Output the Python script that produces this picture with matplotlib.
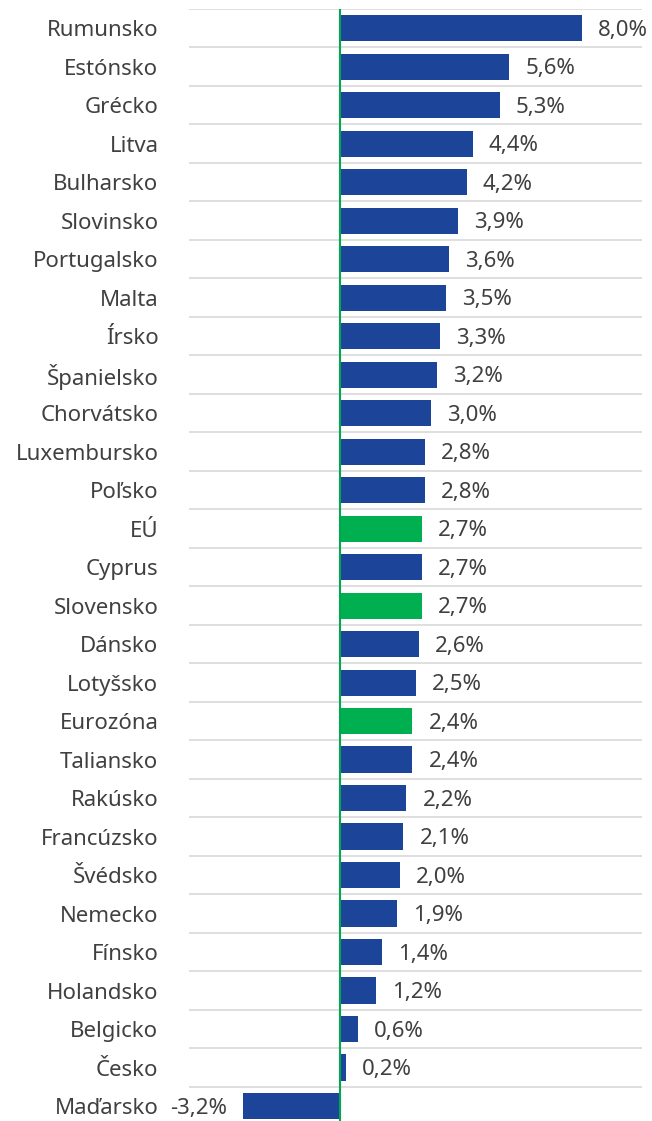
import numpy
import matplotlib

matplotlib.use("Agg")
import matplotlib.pyplot

matplotlib.pyplot.rcParams.update({
    "font.family": ["Noto Sans", "DejaVu Sans"],
    "font.size": 16,
    "text.color": "#404040",
})

countries = [
    "Rumunsko", "Estónsko", "Grécko", "Litva", "Bulharsko", "Slovinsko",
    "Portugalsko", "Malta", "Írsko", "Španielsko", "Chorvátsko", "Luxembursko",
    "Poľsko", "EÚ", "Cyprus", "Slovensko", "Dánsko", "Lotyšsko", "Eurozóna",
    "Taliansko", "Rakúsko", "Francúzsko", "Švédsko", "Nemecko", "Fínsko",
    "Holandsko", "Belgicko", "Česko", "Maďarsko",
]
values = [
    8.0, 5.6, 5.3, 4.4, 4.2, 3.9, 3.6, 3.5, 3.3, 3.2, 3.0, 2.8, 2.8, 2.7,
    2.7, 2.7, 2.6, 2.5, 2.4, 2.4, 2.2, 2.1, 2.0, 1.9, 1.4, 1.2, 0.6, 0.2, -3.2,
]
highlighted = ["EÚ", "Slovensko", "Eurozóna"]

BLUE = "#1c4599"
GREEN = "#00b050"

fig = matplotlib.pyplot.figure(figsize=(6.52, 11.21), dpi=100)
ax = fig.add_axes([189 / 652, 0, 453 / 652, 1112 / 1121])

y = numpy.arange(len(countries))
colors = [GREEN if c in highlighted else BLUE for c in countries]
ax.barh(y, values, height=0.68, color=colors, zorder=3)

for yi, v in zip(y, values):
    label = f"{v:.1f}%".replace(".", ",")
    if v >= 0:
        ax.annotate(label, (v, yi), xytext=(11.5, -1.5), textcoords="offset points",
                    ha="left", va="center", fontsize=16, color="#404040")
    else:
        ax.annotate(label, (v, yi), xytext=(-11.5, -1.5), textcoords="offset points",
                    ha="right", va="center", fontsize=16, color="#404040")

ax.set_xlim(-5, 10)
ax.set_ylim(len(countries) - 1 + 15 / 38.5, -0.5)
ax.axvline(0, color="#00a650", linewidth=1.5, zorder=4)

ax.set_yticks(y)
ax.set_yticklabels(countries)
ax.set_yticks(numpy.arange(len(countries)) - 0.5, minor=True)
ax.tick_params(axis="y", which="both", length=0, pad=22, labelsize=16, labelcolor="#404040")
ax.set_xticks([])
ax.grid(True, axis="y", which="minor", color="#d9d9d9", linewidth=1.2, zorder=0)
ax.grid(False, axis="y", which="major")

for s in ax.spines.values():
    s.set_visible(False)

fig.savefig("out.png", dpi=100)
